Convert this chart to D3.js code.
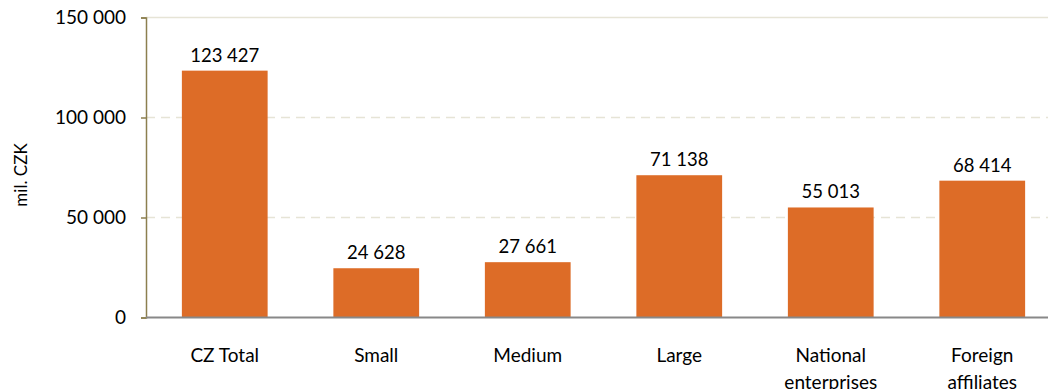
<!DOCTYPE html>
<html><head><meta charset="utf-8">
<script src="https://cdn.jsdelivr.net/npm/d3@7"></script>
<style>body{margin:0;background:#fff;}svg{display:block;font-family:Lato,"Open Sans",sans-serif;}</style>
</head><body>
<svg id="c" width="1048" height="389"></svg>
<script>
const categories = ["CZ Total", "Small", "Medium", "Large", "National enterprises", "Foreign affiliates"];
const values = [123427, 24628, 27661, 71138, 55013, 68414];
const yTicks = [0, 50000, 100000, 150000];
const yTitle = "mil. CZK";

(function(){
const svg = d3.select("#c");
const mLeft = 146, mTop = 17.5, mBottom = 317.5;
const fmt = v => d3.format(",")(v).replace(/,/g, " ");
const FF = "Lato,'Open Sans',sans-serif";

const x = d3.scaleBand().domain(categories).range([149, 1058]).paddingInner(0.434).paddingOuter(0.217);
const y = d3.scaleLinear().domain([0, 150000]).range([mBottom, mTop]);

svg.append("g").selectAll("line").data(yTicks.filter(d => d > 0)).join("line")
  .attr("x1", mLeft).attr("x2", 1048)
  .attr("y1", d => y(d)).attr("y2", d => y(d))
  .attr("stroke", "#E6E4D6").attr("stroke-width", 1.5)
  .attr("stroke-dasharray", d => d === 150000 ? null : "9,6");

svg.append("g").selectAll("rect").data(values).join("rect")
  .attr("x", (d, i) => x(categories[i]))
  .attr("width", x.bandwidth())
  .attr("y", d => y(d))
  .attr("height", d => y(0) - y(d))
  .attr("fill", "#DD6C27");

svg.append("g").selectAll("text").data(values).join("text")
  .attr("x", (d, i) => x(categories[i]) + x.bandwidth() / 2)
  .attr("y", d => y(d) - 9)
  .attr("text-anchor", "middle")
  .attr("font-size", 18.5).attr("fill", "#000")
  .text(d => fmt(d));

const ya = svg.append("g").attr("transform", `translate(${mLeft},0)`)
  .call(d3.axisLeft(y).tickValues(yTicks).tickSize(5).tickPadding(15).tickFormat(fmt));
ya.select(".domain").attr("stroke", "#8C7F4F").attr("stroke-width", 1.5);
ya.selectAll(".tick line").attr("stroke", "#8C7F4F").attr("stroke-width", 1.5);
ya.selectAll(".tick text").attr("font-size", 19).attr("fill", "#000").attr("font-family", FF);

const xa = svg.append("g").attr("transform", `translate(0,${mBottom})`)
  .call(d3.axisBottom(x).tickSize(0).tickPadding(0));
xa.select(".domain").attr("stroke", "#888").attr("stroke-width", 2).attr("d", `M${mLeft},0H1048`);
xa.selectAll(".tick text").remove();
xa.selectAll(".tick").each(function(d) {
  const words = d === "CZ Total" ? [d] : d.split(" ");
  const t = d3.select(this).append("text").attr("text-anchor", "middle")
    .attr("font-size", 19).attr("fill", "#000").attr("font-family", FF);
  words.forEach((w, i) => t.append("tspan").attr("x", 0).attr("y", 44 + i * 27).text(w));
});

svg.append("text").attr("transform", "translate(27,175) rotate(-90)")
  .attr("text-anchor", "middle").attr("font-size", 17).attr("fill", "#000")
  .text(yTitle);
})();
</script>
</body></html>
